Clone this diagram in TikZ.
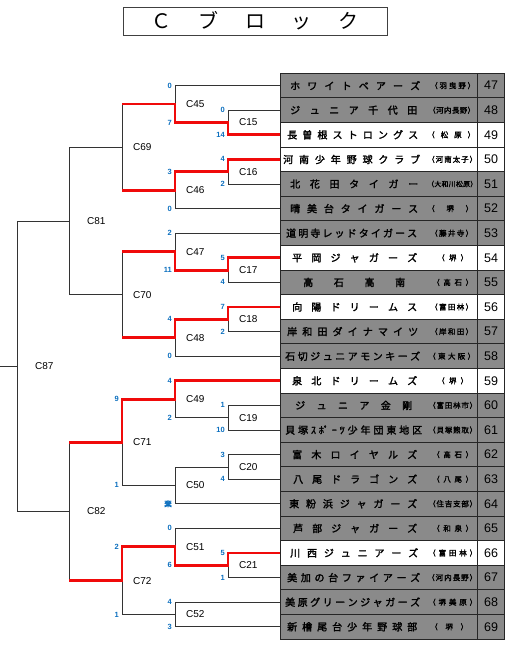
\documentclass[tikz,border=0pt]{standalone}
\usepackage{fontspec}
\setmainfont{Liberation Sans}
\newfontfamily\jp{Noto Sans CJK JP}[FakeBold=2]
\newfontfamily\jpr{Noto Sans CJK JP}
\usetikzlibrary{calc}
\definecolor{cellgray}{RGB}{138,138,138}
\definecolor{scoreblue}{RGB}{10,110,190}
\definecolor{winred}{RGB}{240,10,10}
\let\sprEnd\relax
\def\sprEndTok{\sprEnd}
\newcommand\spread[2]{\makebox[#1][s]{\sprFirst#2\sprEnd}}
\def\sprFirst#1{#1\sprNext}
\def\sprNext#1{\def\sprArg{#1}\ifx\sprArg\sprEndTok\else\hfill#1\expandafter\sprNext\fi}
\def\locsz{7.5}
\newcommand\teamrow[9]{%
  \node[namecell, fill=#3] (n#1) at (379,{85.6+24.6*#2}) {};
  \node[numcell, fill=#3] (k#1) at (491,{85.6+24.6*#2}) {#1};
  \node[nametext] (nm#1) at (#4,{85.6+24.6*#2}) {\spread{#5pt}{#6}};
  \node[loctext] (lc#1) at (#7,{85.6+24.6*#2}) {\spread{#8pt}{#9}};
}
\newcommand\mkmatch[4]{%
  \coordinate (#1m) at ($(#2)!.5!(#3)$);
  \coordinate (#1) at (#1m -| #4);
}
\tikzset{
  namecell/.style={draw=black!85, line width=0.9pt, minimum width=197.4pt, minimum height=24.6pt, inner sep=0pt, outer sep=0pt},
  numcell/.style={draw=black!85, line width=0.9pt, minimum width=26.6pt, minimum height=24.6pt, inner sep=0pt, outer sep=0pt, font=\fontsize{12.5}{12.5}\selectfont},
  nametext/.style={anchor=west, inner sep=0pt, font=\jp\fontsize{10}{10}\selectfont},
  loctext/.style={anchor=west, inner sep=0pt, font=\jp\fontsize{\locsz}{\locsz}\selectfont},
  lose/.style={draw=black!80, line width=0.8pt},
  win/.style={draw=winred, line width=2.8pt, line join=miter},
  mlab/.style={anchor=west, inner sep=0pt, xshift=11pt, font=\fontsize{10}{10}\selectfont},
  score/.style={anchor=east, inner sep=0pt, xshift=-3pt, text=scoreblue, font=\bfseries\fontsize{7.5}{7.5}\selectfont},
}
\begin{document}
\begin{tikzpicture}[x=1pt,y=-1pt]
\useasboundingbox (0,0) rectangle (512,650);
% title
\node[draw=black!75, line width=0.9pt, minimum width=264pt, minimum height=28pt, inner sep=0pt, font=\jpr\fontsize{20}{20}\selectfont] (title) at (255,21) {\spread{207pt}{Ｃブロック}};
% table
\teamrow{47}{0}{cellgray}{290}{130}{ホワイトベアーズ}{430}{45}{（羽曳野）}
\teamrow{48}{1}{cellgray}{290}{127}{ジュニア千代田}{428}{47}{（河内長野）}
\teamrow{49}{2}{white}{287}{131}{長曽根ストロングス}{427}{48}{（松原）}
\teamrow{50}{3}{white}{283}{137}{河南少年野球クラブ}{427}{50}{（河南太子）}
\def\locsz{6.8}
\teamrow{51}{4}{cellgray}{290}{128}{北花田タイガー}{427}{50}{（大和川松原）}
\def\locsz{7.5}
\teamrow{52}{5}{cellgray}{290}{128}{晴美台タイガース}{427}{46}{（堺）}
\teamrow{53}{6}{cellgray}{286}{131}{道明寺レッドタイガース}{430}{43}{（藤井寺）}
\teamrow{54}{7}{white}{292}{125}{平岡ジャガーズ}{437}{31}{（堺）}
\teamrow{55}{8}{cellgray}{303}{102}{高石高南}{432}{41}{（高石）}
\teamrow{56}{9}{white}{292}{125}{向陽ドリームス}{430}{43}{（富田林）}
\teamrow{57}{10}{cellgray}{287}{131}{岸和田ダイナマイツ}{430}{43}{（岸和田）}
\teamrow{58}{11}{cellgray}{285}{135}{石切ジュニアモンキーズ}{428}{47}{（東大阪）}
\teamrow{59}{12}{white}{292}{125}{泉北ドリームズ}{437}{31}{（堺）}
\teamrow{60}{13}{cellgray}{295}{117}{ジュニア金剛}{428}{49}{（富田林市）}
\teamrow{61}{14}{cellgray}{285}{137}{貝塚ｽ{ﾎﾟ}ｰﾂ少年団東地区}{428}{49}{（貝塚熊取）}
\teamrow{62}{15}{cellgray}{292}{125}{富木ロイヤルズ}{432}{41}{（高石）}
\teamrow{63}{16}{cellgray}{293}{124}{八尾ドラゴンズ}{432}{41}{（八尾）}
\teamrow{64}{17}{cellgray}{289}{128}{東粉浜ジャガーズ}{428}{49}{（住吉支部）}
\teamrow{65}{18}{cellgray}{293}{124}{芦部ジャガーズ}{432}{41}{（和泉）}
\teamrow{66}{19}{white}{290}{128}{川西ジュニアーズ}{428}{49}{（富田林）}
\teamrow{67}{20}{cellgray}{287}{133}{美加の台ファイアーズ}{427}{50}{（河内長野）}
\teamrow{68}{21}{cellgray}{285}{135}{美原グリーンジャガーズ}{428}{49}{（堺美原）}
\teamrow{69}{22}{cellgray}{287}{130}{新檜尾台少年野球部}{430}{38}{（堺）}
% bracket columns
\coordinate (O) at (0,0);
\coordinate (Xa) at (17,0);
\coordinate (Xb) at (69,0);
\coordinate (Xc) at (122,0);
\coordinate (Xd) at (175,0);
\coordinate (Xe) at (228,0);
\mkmatch{C15}{n48.west}{n49.west}{Xe}
\mkmatch{C45}{n47.west}{C15}{Xd}
\mkmatch{C16}{n50.west}{n51.west}{Xe}
\mkmatch{C46}{C16}{n52.west}{Xd}
\mkmatch{C69}{C45}{C46}{Xc}
\mkmatch{C17}{n54.west}{n55.west}{Xe}
\mkmatch{C47}{n53.west}{C17}{Xd}
\mkmatch{C18}{n56.west}{n57.west}{Xe}
\mkmatch{C48}{C18}{n58.west}{Xd}
\mkmatch{C70}{C47}{C48}{Xc}
\mkmatch{C81}{C69}{C70}{Xb}
\mkmatch{C19}{n60.west}{n61.west}{Xe}
\mkmatch{C49}{n59.west}{C19}{Xd}
\mkmatch{C20}{n62.west}{n63.west}{Xe}
\mkmatch{C50}{C20}{n64.west}{Xd}
\mkmatch{C71}{C49}{C50}{Xc}
\mkmatch{C21}{n66.west}{n67.west}{Xe}
\mkmatch{C51}{n65.west}{C21}{Xd}
\mkmatch{C52}{n68.west}{n69.west}{Xd}
\mkmatch{C72}{C51}{C52}{Xc}
\mkmatch{C82}{C71}{C72}{Xb}
\mkmatch{C87}{C81}{C82}{Xa}
% black bracket lines
\foreach \a/\m in {n48.west/C15, n49.west/C15, n47.west/C45, C15/C45,
  n50.west/C16, n51.west/C16, C16/C46, n52.west/C46, C45/C69, C46/C69,
  n54.west/C17, n55.west/C17, n53.west/C47, C17/C47,
  n56.west/C18, n57.west/C18, C18/C48, n58.west/C48, C47/C70, C48/C70,
  C69/C81, C70/C81,
  n60.west/C19, n61.west/C19, n59.west/C49, C19/C49,
  n62.west/C20, n63.west/C20, C20/C50, n64.west/C50, C49/C71, C50/C71,
  n66.west/C21, n67.west/C21, n65.west/C51, C21/C51,
  n68.west/C52, n69.west/C52, C51/C72, C52/C72,
  C71/C82, C72/C82, C81/C87, C82/C87}
  \draw[lose] (\a) -| (\m);
\draw[lose] (C87) -- (O |- C87);
% winners
\draw[win] (n49.west) -| (C15) -| (C45) -- (C45 -| Xc);
\draw[win] (n50.west) -| (C16) -| (C46) -- (C46 -| Xc);
\draw[win] (n54.west) -| (C17) -| (C47) -- (C47 -| Xc);
\draw[win] (n56.west) -| (C18) -| (C48) -- (C48 -| Xc);
\draw[win] (n59.west) -| (C49) -| (C71) -- (C71 -| Xb);
\draw[win] (n66.west) -| (C21) -| (C51) -| (C72) -- (C72 -| Xb);
% match labels
\foreach \m in {15,16,17,18,19,20,21,45,46,47,48,49,50,51,52,69,70,71,72}
  \node[mlab] (L\m) at (C\m) {C\m};
\foreach \m in {81,82,87}
  \node[mlab, xshift=7pt] (L\m) at (C\m) {C\m};
% scores
\node[score] (s15a) at (n48.west -| Xe) {0};
\node[score] (s15b) at (n49.west -| Xe) {14};
\node[score] (s45a) at (n47.west -| Xd) {0};
\node[score] (s45b) at (C15 -| Xd) {7};
\node[score] (s16a) at (n50.west -| Xe) {4};
\node[score] (s16b) at (n51.west -| Xe) {2};
\node[score] (s46a) at (C16 -| Xd) {3};
\node[score] (s46b) at (n52.west -| Xd) {0};
\node[score] (s17a) at (n54.west -| Xe) {5};
\node[score] (s17b) at (n55.west -| Xe) {4};
\node[score] (s47a) at (n53.west -| Xd) {2};
\node[score] (s47b) at (C17 -| Xd) {11};
\node[score] (s18a) at (n56.west -| Xe) {7};
\node[score] (s18b) at (n57.west -| Xe) {2};
\node[score] (s48a) at (C18 -| Xd) {4};
\node[score] (s48b) at (n58.west -| Xd) {0};
\node[score] (s19a) at (n60.west -| Xe) {1};
\node[score] (s19b) at (n61.west -| Xe) {10};
\node[score] (s49a) at (n59.west -| Xd) {4};
\node[score] (s49b) at (C19 -| Xd) {2};
\node[score] (s71a) at (C49 -| Xc) {9};
\node[score] (s71b) at (C50 -| Xc) {1};
\node[score] (s20a) at (n62.west -| Xe) {3};
\node[score] (s20b) at (n63.west -| Xe) {4};
\node[score, font=\jp\fontsize{7.5}{7.5}\selectfont] (s50b) at (n64.west -| Xd) {棄};
\node[score] (s21a) at (n66.west -| Xe) {5};
\node[score] (s21b) at (n67.west -| Xe) {1};
\node[score] (s51a) at (n65.west -| Xd) {0};
\node[score] (s51b) at (C21 -| Xd) {6};
\node[score] (s52a) at (n68.west -| Xd) {4};
\node[score] (s52b) at (n69.west -| Xd) {3};
\node[score] (s72a) at (C51 -| Xc) {2};
\node[score] (s72b) at (C52 -| Xc) {1};
\end{tikzpicture}
\end{document}
